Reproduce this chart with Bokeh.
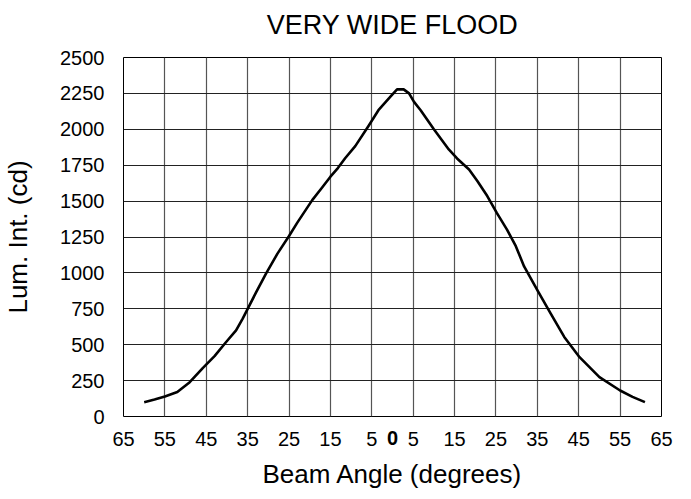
from bokeh.plotting import figure
from bokeh.models import Range1d, FixedTicker, LinearAxis
from bokeh.embed import file_html
from bokeh.resources import INLINE

# Beam angle (degrees, negative = left side) and luminous intensity (cd)
angles = [-60, -57.5, -55, -52, -49, -45.8, -43, -40.2, -37.8, -36.2,
          -35, -33, -30.6, -27.8, -25, -23, -19.4, -17, -15, -13.2,
          -11.4, -9, -5.8, -3.4, -0.5, 1.1, 2.7, 4.0, 5.2, 6.8,
          10, 13.6, 15.6, 18.5, 20.5, 22.9, 25.2, 27.7, 29.8, 31.8,
          35.2, 38.2, 41.5, 45.2, 50, 55, 58, 61]
intensity = [100, 118, 139, 170, 239, 339, 420, 519, 600, 682,
             750, 862, 993, 1134, 1257, 1350, 1507, 1595, 1670, 1730,
             1800, 1883, 2023, 2133, 2227, 2278, 2278, 2250, 2191, 2133,
             2000, 1860, 1797, 1720, 1640, 1535, 1418, 1300, 1186, 1045,
             870, 718, 554, 413, 274, 181, 137, 100]

x_ticks = [-65, -55, -45, -35, -25, -15, -5, 5, 15, 25, 35, 45, 55, 65]
x_tick_labels = ["65", "55", "45", "35", "25", "15", "5", "5", "15", "25", "35", "45", "55", "65"]
zero_tick = [0]
y_ticks = [0, 250, 500, 750, 1000, 1250, 1500, 1750, 2000, 2250, 2500]

title_text = "VERY WIDE FLOOD"
x_label = "Beam Angle (degrees)"
y_label = "Lum. Int. (cd)"

FONT = "Liberation Sans"

p = figure(frame_width=538, frame_height=359, output_backend="svg", toolbar_location=None,
           title=None, x_range=Range1d(-65, 65), y_range=Range1d(0, 2500),
           min_border_left=116, min_border_right=21, min_border_top=57, min_border_bottom=75)

main_x = p.below[0]
main_y = p.left[0]

p.outline_line_color = "black"
p.outline_line_width = 1
p.background_fill_color = "white"
p.border_fill_color = "white"

# top axis used only to carry the chart title, centred over the plot area
title_axis = LinearAxis(ticker=FixedTicker(ticks=[]))
p.add_layout(title_axis, "above")

# second bottom axis carrying only the bold "0" and the axis title
zero_axis = LinearAxis(ticker=FixedTicker(ticks=zero_tick))
p.add_layout(zero_axis, "below")

main_x.ticker = FixedTicker(ticks=x_ticks)
main_x.major_label_overrides = {t: l for t, l in zip(x_ticks, x_tick_labels)}
main_y.ticker = FixedTicker(ticks=y_ticks)

for ax in (main_x, main_y, title_axis, zero_axis):
    ax.axis_line_color = None
    ax.major_tick_line_color = None
    ax.minor_tick_line_color = None
    ax.major_tick_out = 0
    ax.major_tick_in = 0
    ax.minor_tick_out = 0
    ax.minor_tick_in = 0
    ax.major_label_text_font = FONT
    ax.major_label_text_font_size = "20px"
    ax.major_label_text_color = "black"
    ax.axis_label_text_font = FONT
    ax.axis_label_text_font_size = "26px"
    ax.axis_label_text_font_style = "normal"
    ax.axis_label_text_color = "black"

title_axis.major_label_standoff = 0
title_axis.axis_label = title_text
title_axis.axis_label_text_font_size = "27px"
title_axis.axis_label_standoff = 18

main_x.major_label_standoff = 15
zero_axis.major_label_standoff = -18
zero_axis.major_label_text_font_style = "bold"
zero_axis.axis_label = x_label
zero_axis.axis_label_standoff = 11

main_y.major_label_standoff = 19
main_y.axis_label = y_label
main_y.axis_label_standoff = 24

p.xgrid.ticker = FixedTicker(ticks=x_ticks)
p.ygrid.ticker = FixedTicker(ticks=y_ticks)
p.xgrid.grid_line_color = "#555555"
p.xgrid.grid_line_width = 1.2
p.ygrid.grid_line_color = "#222222"
p.ygrid.grid_line_width = 1

p.line(angles, intensity, line_color="black", line_width=2.6, line_join="round")

open("out.html", "w").write(file_html(p, INLINE))
